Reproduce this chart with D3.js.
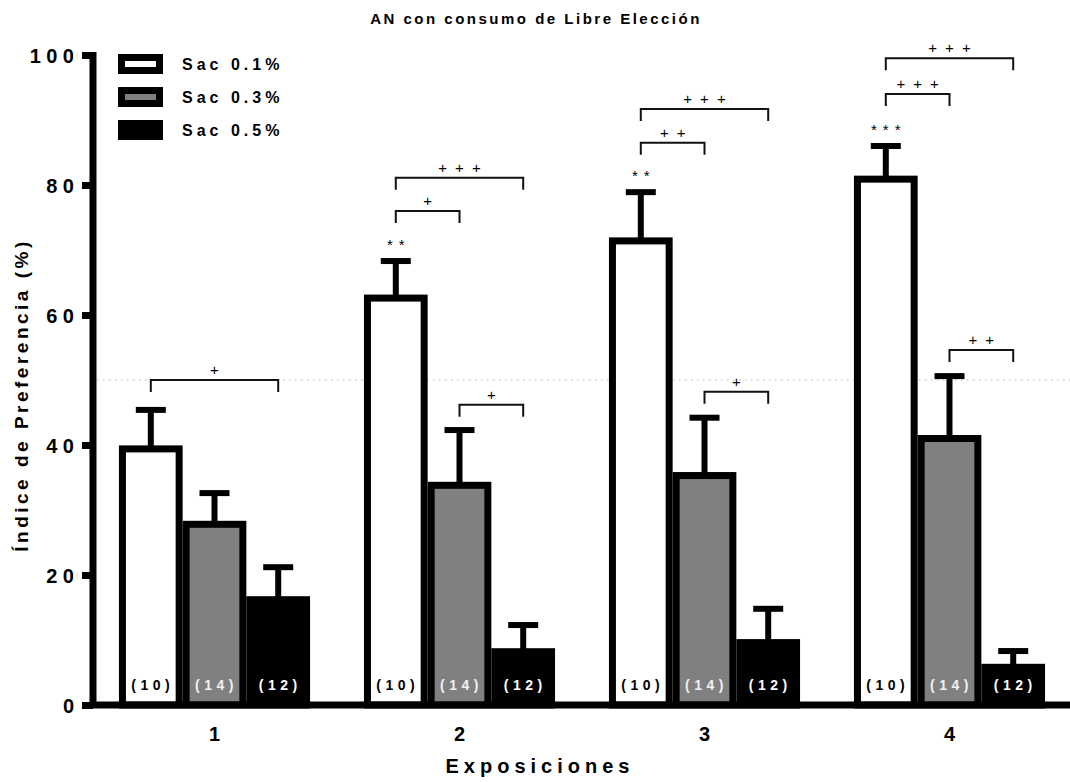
<!DOCTYPE html>
<html>
<head>
<meta charset="utf-8">
<script src="https://cdn.jsdelivr.net/npm/d3@7"></script>
<style>
  body { margin: 0; background: #fff; }
  svg { display: block; font-family: "Liberation Sans", Arial, sans-serif; }
</style>
</head>
<body>
<svg id="chart" width="1070" height="782"></svg>
<script>
// Data
const groups = ["1", "2", "3", "4"];
const seriesNames = ["Sac 0.1%", "Sac 0.3%", "Sac 0.5%"];
const seriesFill = ["#ffffff", "#808080", "#000000"];
const nLabels = ["(10)", "(14)", "(12)"];
const nLabelColor = ["#000000", "#f0f0f0", "#ffffff"];

const sac01Mean = [39.4, 62.6, 71.4, 80.9];
const sac03Mean = [27.8, 33.8, 35.3, 41.0];
const sac05Mean = [16.2, 8.2, 9.6, 5.8];
const sac01Err = [6.0, 5.7, 7.5, 5.1];
const sac03Err = [4.8, 8.5, 8.9, 9.6];
const sac05Err = [5.0, 4.1, 5.2, 2.5];

const yTicks = [0, 20, 40, 60, 80, 100];
const refLevel = 50;

// significance brackets: group, from series, to series, level (y units), label
const brackets = [
  { group: "1", from: 0, to: 2, level: 50.0, label: "+" },
  { group: "2", from: 0, to: 1, level: 76.0, label: "+" },
  { group: "2", from: 0, to: 2, level: 81.1, label: "+++" },
  { group: "2", from: 1, to: 2, level: 46.2, label: "+" },
  { group: "3", from: 0, to: 1, level: 86.5, label: "++" },
  { group: "3", from: 0, to: 2, level: 91.7, label: "+++" },
  { group: "3", from: 1, to: 2, level: 48.2, label: "+" },
  { group: "4", from: 0, to: 1, level: 94.0, label: "+++" },
  { group: "4", from: 0, to: 2, level: 99.5, label: "+++" },
  { group: "4", from: 1, to: 2, level: 54.6, label: "++" }
];
const stars = [
  { group: "2", series: 0, label: "**" },
  { group: "3", series: 0, label: "**" },
  { group: "4", series: 0, label: "***" }
];

const means = [sac01Mean, sac03Mean, sac05Mean];
const errs = [sac01Err, sac03Err, sac05Err];

const svg = d3.select("#chart");

const y = d3.scaleLinear().domain([0, 100]).range([705, 55]);
const x0 = d3.scaleBand().domain(groups).range([92, 1072])
  .paddingInner(0.22).paddingOuter(0.11);
const x1 = d3.scaleBand().domain(d3.range(seriesNames.length)).range([0, x0.bandwidth()]);
const cx = (g, s) => x0(g) + x1(s) + x1.bandwidth() / 2;

const BORDER = 7;

// dotted 50% line
svg.append("line")
  .attr("x1", 97).attr("x2", 1070)
  .attr("y1", y(refLevel)).attr("y2", y(refLevel))
  .attr("stroke", "#b0b0b0").attr("stroke-width", 1)
  .attr("stroke-dasharray", "1.5,4.5");

// bars
const cells = [];
groups.forEach((g, gi) => {
  seriesNames.forEach((s, si) => {
    cells.push({ g, si, v: means[si][gi], e: errs[si][gi] });
  });
});

// error bars (drawn first, bars cover the stem base)
const eb = svg.append("g").attr("stroke", "#000");
eb.selectAll(".stem").data(cells).join("line")
  .attr("x1", d => cx(d.g, d.si)).attr("x2", d => cx(d.g, d.si))
  .attr("y1", d => y(d.v)).attr("y2", d => y(d.v + d.e))
  .attr("stroke-width", 6);
eb.selectAll(".cap").data(cells).join("line")
  .attr("x1", d => cx(d.g, d.si) - 15).attr("x2", d => cx(d.g, d.si) + 15)
  .attr("y1", d => y(d.v + d.e)).attr("y2", d => y(d.v + d.e))
  .attr("stroke-width", 6);

svg.append("g").selectAll("rect").data(cells).join("rect")
  .attr("x", d => x0(d.g) + x1(d.si) + BORDER / 2)
  .attr("width", x1.bandwidth() - BORDER)
  .attr("y", d => y(d.v))
  .attr("height", d => y(0) - y(d.v))
  .attr("fill", d => seriesFill[d.si])
  .attr("stroke", "#000")
  .attr("stroke-width", BORDER);

// n labels inside bars
svg.append("g").selectAll("text").data(cells).join("text")
  .attr("x", d => cx(d.g, d.si) + 2)
  .attr("y", 690)
  .attr("text-anchor", "middle")
  .attr("font-size", 14).attr("font-weight", "bold")
  .attr("letter-spacing", 4.5)
  .attr("fill", d => nLabelColor[d.si])
  .text(d => nLabels[d.si]);

// brackets
const br = svg.append("g");
br.selectAll("path").data(brackets).join("path")
  .attr("d", d => {
    const xa = cx(d.group, d.from), xb = cx(d.group, d.to), yy = y(d.level);
    return `M${xa},${yy + 12}V${yy}H${xb}V${yy + 12}`;
  })
  .attr("fill", "none").attr("stroke", "#111").attr("stroke-width", 2);
br.selectAll("text").data(brackets).join("text")
  .attr("x", d => (cx(d.group, d.from) + cx(d.group, d.to)) / 2 + 4)
  .attr("y", d => y(d.level) - 5)
  .attr("text-anchor", "middle")
  .attr("font-size", 15)
  .attr("letter-spacing", 8)
  .text(d => d.label);

// stars
svg.append("g").selectAll("text").data(stars).join("text")
  .attr("x", d => cx(d.group, d.series) + 3)
  .attr("y", d => {
    const gi = groups.indexOf(d.group);
    return y(means[d.series][gi] + errs[d.series][gi]) - 11;
  })
  .attr("text-anchor", "middle")
  .attr("font-size", 15)
  .attr("letter-spacing", 6)
  .text(d => d.label);

// axes
const yAxis = svg.append("g")
  .attr("transform", "translate(93,0)")
  .call(d3.axisLeft(y).tickValues(yTicks).tickSize(11).tickSizeOuter(0).tickPadding(8));
yAxis.select(".domain").attr("stroke-width", BORDER).attr("d", `M0,${y(100) - 3}V${y(0) + 3}`);
yAxis.selectAll(".tick line").attr("stroke-width", 7);
yAxis.selectAll(".tick text")
  .attr("font-size", 20).attr("font-weight", "bold")
  .attr("font-family", "Liberation Sans, Arial, sans-serif")
  .attr("letter-spacing", 5.5).attr("dx", 5.5).attr("dy", "0.36em")
  .attr("fill", "#000");

const xAxis = svg.append("g")
  .attr("transform", `translate(0,${y(0)})`)
  .call(d3.axisBottom(x0).tickSize(0).tickSizeOuter(0).tickPadding(22));
xAxis.select(".domain").attr("stroke-width", BORDER).attr("d", "M89.5,0H1070");
xAxis.selectAll(".tick text")
  .attr("font-size", 20).attr("font-weight", "bold")
  .attr("font-family", "Liberation Sans, Arial, sans-serif")
  .attr("fill", "#000");

// titles
svg.append("text")
  .attr("x", 536).attr("y", 24)
  .attr("text-anchor", "middle")
  .attr("font-size", 15).attr("font-weight", "bold")
  .attr("letter-spacing", 2.5)
  .text("AN con consumo de Libre Elección");

svg.append("text")
  .attr("x", 540).attr("y", 773)
  .attr("text-anchor", "middle")
  .attr("font-size", 20).attr("font-weight", "bold")
  .attr("letter-spacing", 5)
  .text("Exposiciones");

svg.append("text")
  .attr("transform", "translate(28,395) rotate(-90)")
  .attr("text-anchor", "middle")
  .attr("font-size", 19).attr("font-weight", "bold")
  .attr("letter-spacing", 3.5)
  .text("Índice de Preferencia (%)");

// legend
const legend = svg.append("g").selectAll("g").data(seriesNames).join("g")
  .attr("transform", (d, i) => `translate(118,${64 + i * 33})`);
legend.append("rect")
  .attr("x", BORDER / 2).attr("y", -10 + BORDER / 2)
  .attr("width", 45 - BORDER).attr("height", 20 - BORDER)
  .attr("fill", (d, i) => seriesFill[i])
  .attr("stroke", "#000").attr("stroke-width", BORDER);
legend.append("text")
  .attr("x", 64).attr("y", 6)
  .attr("font-size", 16).attr("font-weight", "bold")
  .attr("letter-spacing", 4)
  .text(d => d);
</script>
</body>
</html>
